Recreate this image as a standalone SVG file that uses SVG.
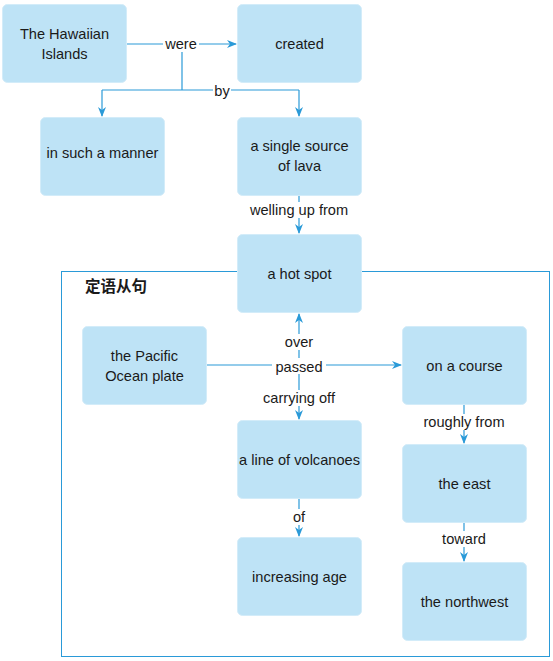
<svg xmlns="http://www.w3.org/2000/svg" width="553" height="661" viewBox="0 0 553 661">
<style>
.node rect{fill:#bee3f6;stroke:#d3ecf9;stroke-width:1}
text{font-family:"Liberation Sans",Arial,sans-serif;font-size:14.6px;fill:#1a1a1a;text-anchor:middle}
.edge{fill:none;stroke:#2a9ad8;stroke-width:1.2}
.lbl rect{fill:#fff}
</style>
<defs>
<marker id="ar" viewBox="0 0 10 10" refX="9" refY="5" markerWidth="10" markerHeight="10" markerUnits="userSpaceOnUse" orient="auto">
<path d="M0,1 L10,5 L0,9 L3,5 Z" fill="#2a9ad8"/>
</marker>
</defs>
<rect id="group" x="61.5" y="271.5" width="488" height="385" fill="none" stroke="#2a9ad8" stroke-width="1"/>
<text x="85" y="292" style="text-anchor:start;font-family:'Noto Sans CJK SC',sans-serif;font-weight:bold;font-size:15.5px">定语从句</text>
<g id="connectors">
<path class="edge" d="M127,44 H236" marker-end="url(#ar)"/>
<path class="edge" d="M182,44 V90"/>
<path class="edge" d="M102,90 H299"/>
<path class="edge" d="M102,90 V116" marker-end="url(#ar)"/>
<path class="edge" d="M299,90 V116" marker-end="url(#ar)"/>
<path class="edge" d="M299,195 V233" marker-end="url(#ar)"/>
<path class="edge" d="M207,365 H401" marker-end="url(#ar)"/>
<path class="edge" d="M299,365 V314" marker-end="url(#ar)"/>
<path class="edge" d="M299,365 V419" marker-end="url(#ar)"/>
<path class="edge" d="M299,499 V536" marker-end="url(#ar)"/>
<path class="edge" d="M464,405 V443" marker-end="url(#ar)"/>
<path class="edge" d="M464,523 V561" marker-end="url(#ar)"/>
<g class="lbl">
<rect x="163" y="36" width="36" height="16"/><text x="181" y="49">were</text>
<rect x="213" y="83" width="18" height="16"/><text x="222" y="96">by</text>
<rect x="246" y="202" width="106" height="16"/><text x="299" y="215">welling up from</text>
<rect x="282" y="334" width="34" height="16"/><text x="299" y="347">over</text>
<rect x="272" y="358" width="54" height="16"/><text x="299" y="372">passed</text>
<rect x="260" y="390" width="78" height="16"/><text x="299" y="403">carrying off</text>
<rect x="290" y="509" width="18" height="16"/><text x="299" y="522">of</text>
<rect x="419" y="414" width="90" height="16"/><text x="464" y="427">roughly from</text>
<rect x="439" y="531" width="50" height="16"/><text x="464" y="544">toward</text>
</g>
</g>
<g id="n1" class="node"><rect x="2.5" y="4.5" width="124" height="78" rx="5"/><text x="64.5" y="39">The Hawaiian</text><text x="64.5" y="59">Islands</text></g>
<g id="n2" class="node"><rect x="237.5" y="4.5" width="124" height="78" rx="5"/><text x="299.5" y="49">created</text></g>
<g id="n3" class="node"><rect x="40.5" y="117.5" width="124" height="78" rx="5"/><text x="102.5" y="158">in such a manner</text></g>
<g id="n4" class="node"><rect x="237.5" y="117.5" width="124" height="78" rx="5"/><text x="299.5" y="151">a single source</text><text x="299.5" y="171">of lava</text></g>
<g id="n5" class="node"><rect x="237.5" y="234.5" width="124" height="78" rx="5"/><text x="299.5" y="279">a hot spot</text></g>
<g id="n6" class="node"><rect x="82.5" y="326.5" width="124" height="78" rx="5"/><text x="144.5" y="361">the Pacific</text><text x="144.5" y="381">Ocean plate</text></g>
<g id="n7" class="node"><rect x="402.5" y="326.5" width="124" height="78" rx="5"/><text x="464.5" y="371">on a course</text></g>
<g id="n8" class="node"><rect x="237.5" y="420.5" width="124" height="78" rx="5"/><text x="299.5" y="465">a line of volcanoes</text></g>
<g id="n9" class="node"><rect x="237.5" y="537.5" width="124" height="78" rx="5"/><text x="299.5" y="582">increasing age</text></g>
<g id="n10" class="node"><rect x="402.5" y="444.5" width="124" height="78" rx="5"/><text x="464.5" y="489">the east</text></g>
<g id="n11" class="node"><rect x="402.5" y="562.5" width="124" height="78" rx="5"/><text x="464.5" y="607">the northwest</text></g>
</svg>
